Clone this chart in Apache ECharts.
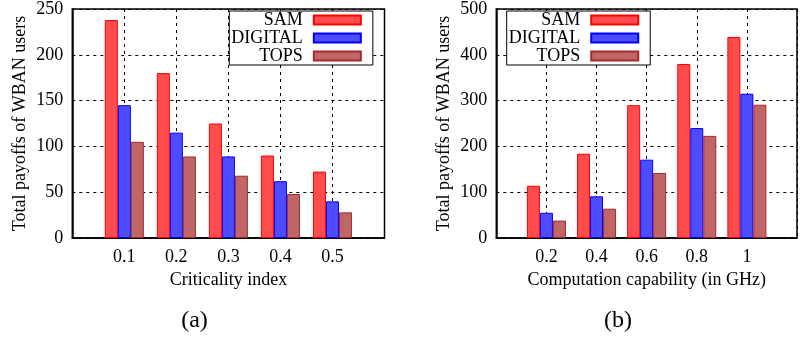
<!DOCTYPE html>
<html>
<head>
<meta charset="utf-8">
<script src="https://cdn.jsdelivr.net/npm/echarts@6/dist/echarts.min.js"></script>
<style>
html,body{margin:0;padding:0;background:#fff;}
#chart{width:800px;height:341px;}
</style>
</head>
<body>
<div id="chart"></div>
<script>
// ---- data ----
const seriesNames = ['SAM', 'DIGITAL', 'TOPS'];

const catsA = ['0.1', '0.2', '0.3', '0.4', '0.5'];
const samA = [238, 180, 125, 90, 72.5];
const digitalA = [145, 115, 89, 62, 40];
const topsA = [105, 89, 68, 48, 28];
const yTicksA = [0, 50, 100, 150, 200, 250];

const catsB = ['0.2', '0.4', '0.6', '0.8', '1'];
const samB = [114, 184, 290, 380, 439];
const digitalB = [55, 91, 171, 240, 315];
const topsB = [38, 64, 142, 223, 291];
const yTicksB = [0, 100, 200, 300, 400, 500];

const xTitleA = 'Criticality index';
const xTitleB = 'Computation capability (in GHz)';
const yTitle = 'Total payoffs of WBAN users';
const captions = ['(a)', '(b)'];

// ---- styles ----
const FONT = 'Liberation Serif';
const fills = ['#ff4d4d', '#4d4dff', '#c06666'];
const borders = ['#ff0000', '#0000ff', '#a52a2a'];

// pad categories with empty slots on both ends (axis spans 0 .. n+1)
const pad = arr => ['', ...arr, ''];
const padV = arr => [null, ...arr, null];

function xAxisCfg(idx, cats, name) {
  return {
    type: 'category', gridIndex: idx, data: pad(cats), boundaryGap: false,
    name: name, nameLocation: 'middle', nameGap: 33,
    nameTextStyle: {fontFamily: FONT, fontSize: 18, color: '#000'},
    axisLine: {lineStyle: {color: '#000', width: 1.5}},
    axisTick: {show: false},
    axisLabel: {interval: 0, margin: 10, fontFamily: FONT, fontSize: 18, color: '#000'},
    splitLine: {show: true, interval: 0, lineStyle: {color: '#000', type: [3, 4], width: 1}}
  };
}
function yAxisCfg(idx, ticks) {
  return {
    type: 'value', gridIndex: idx, min: ticks[0], max: ticks[ticks.length - 1],
    interval: ticks[1] - ticks[0],
    name: yTitle, nameLocation: 'middle', nameGap: 43,
    nameTextStyle: {fontFamily: FONT, fontSize: 18, color: '#000'},
    axisLine: {show: true, lineStyle: {color: '#000', width: 1.5}},
    axisTick: {show: false},
    axisLabel: {margin: 9, fontFamily: FONT, fontSize: 18, color: '#000'},
    splitLine: {show: true, lineStyle: {color: '#000', type: [3, 4], width: 1}}
  };
}
function barSeries(name, i, data, axisIdx) {
  return {
    type: 'bar', name: name, xAxisIndex: axisIdx, yAxisIndex: axisIdx,
    data: padV(data), barWidth: 13, barGap: '0%',
    itemStyle: {color: fills[i], borderColor: borders[i], borderWidth: 1},
    emphasis: {disabled: true}, animation: false
  };
}
function legendCfg(left) {
  return {
    orient: 'vertical', align: 'right', left: left, top: 11,
    itemWidth: 47, itemHeight: 9, itemGap: 0,
    padding: [0, 11, 0, 2], borderColor: '#000', borderWidth: 1, backgroundColor: '#fff',
    icon: 'rect',
    data: seriesNames,
    selectedMode: false,
    textStyle: {fontFamily: FONT, fontSize: 18, color: '#000', lineHeight: 18, padding: [0, 6, 0, 0]}
  };
}

const chart = echarts.init(document.getElementById('chart'), null, {renderer: 'canvas'});
chart.setOption({
  animation: false,
  backgroundColor: '#fff',
  grid: [
    {left: 72.3, top: 8, width: 312.2, height: 230, show: true, borderColor: '#000', borderWidth: 1.5, backgroundColor: '#fff'},
    {left: 496.3, top: 8, width: 312, height: 230, show: true, borderColor: '#000', borderWidth: 1.5, backgroundColor: '#fff'}
  ],
  xAxis: [xAxisCfg(0, catsA, xTitleA), xAxisCfg(1, catsB, xTitleB)],
  yAxis: [yAxisCfg(0, yTicksA), yAxisCfg(1, yTicksB)],
  legend: [legendCfg(229.3), legendCfg(506.7)],
  series: [
    barSeries(seriesNames[0], 0, samA, 0),
    barSeries(seriesNames[1], 1, digitalA, 0),
    barSeries(seriesNames[2], 2, topsA, 0),
    barSeries(seriesNames[0], 0, samB, 1),
    barSeries(seriesNames[1], 1, digitalB, 1),
    barSeries(seriesNames[2], 2, topsB, 1)
  ],
  graphic: [
    {type: 'text', x: 194.5, y: 321, style: {text: captions[0], fontFamily: FONT, fontSize: 24, fill: '#000', textAlign: 'center', textVerticalAlign: 'middle'}},
    {type: 'text', x: 618, y: 321, style: {text: captions[1], fontFamily: FONT, fontSize: 24, fill: '#000', textAlign: 'center', textVerticalAlign: 'middle'}}
  ]
});
</script>
</body>
</html>
